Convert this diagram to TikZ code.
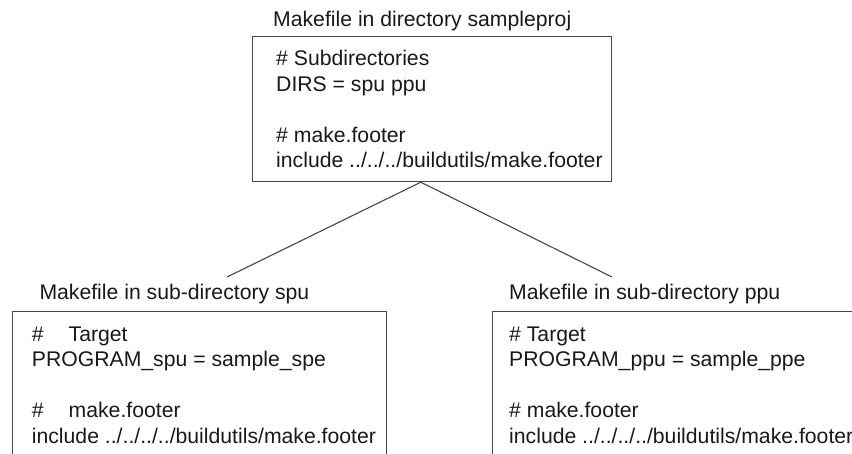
\documentclass[tikz,border=0pt]{standalone}
\usepackage{fontspec}
\setmainfont{Liberation Sans}
\usetikzlibrary{calc}
\begin{document}
\begin{tikzpicture}[x=1pt,y=-1pt,
  box/.style={draw=black!72,line width=1.2pt,inner sep=0pt,anchor=north west,rectangle},
  txt/.style={anchor=base west,inner sep=0pt,text=black!90,font=\fontsize{21.2}{25.4}\selectfont},
  conn/.style={draw=black!72,line width=1.1pt}]
\useasboundingbox (0,0) rectangle (852,453);
\clip (0,0) rectangle (852,453);
\fill[white] (0,0) rectangle (852,453);
% top box
\node[txt] (ttitle) at (273,26) {Makefile in directory sampleproj};
\node[box,minimum width=359pt,minimum height=145pt] (top) at (251.7,36) {};
\node[txt] (t1) at (276,65.7) {\# Subdirectories};
\node[txt] (t2) at (276,91.2) {DIRS = spu ppu};
\node[txt] (t3) at (276,142) {\# make.footer};
\node[txt] (t4) at (276,167.4) {include ../../../buildutils/make.footer};
% left box
\node[txt] (ltitle) at (39.3,299.3) {Makefile in sub-directory spu};
\node[box,minimum width=374.3pt,minimum height=200pt] (left) at (11.7,311) {};
\node[txt] (l1) at (31.7,341.7) {\#\hspace{25pt}Target};
\node[txt] (l2) at (31.7,366.9) {PROGRAM\_spu = sample\_spe};
\node[txt] (l3) at (31.7,417.7) {\#\hspace{25pt}make.footer};
\node[txt] (l4) at (31.7,443.1) {include ../../../../buildutils/make.footer};
% right box
\node[txt] (rtitle) at (509,299.3) {Makefile in sub-directory ppu};
\node[box,minimum width=420pt,minimum height=200pt] (right) at (492,311) {};
\node[txt] (r1) at (509,341.7) {\# Target};
\node[txt] (r2) at (509,366.9) {PROGRAM\_ppu = sample\_ppe};
\node[txt] (r3) at (509,417.7) {\# make.footer};
\node[txt] (r4) at (509,443.1) {include ../../../../buildutils/make.footer};
% connectors
\coordinate (apex) at ($(top.south)+(-11,0)$);
\coordinate (lend) at (227,277);
\coordinate (rend) at (612,277);
\draw[conn] (apex) -- (lend);
\draw[conn] (apex) -- (rend);
\end{tikzpicture}
\end{document}
